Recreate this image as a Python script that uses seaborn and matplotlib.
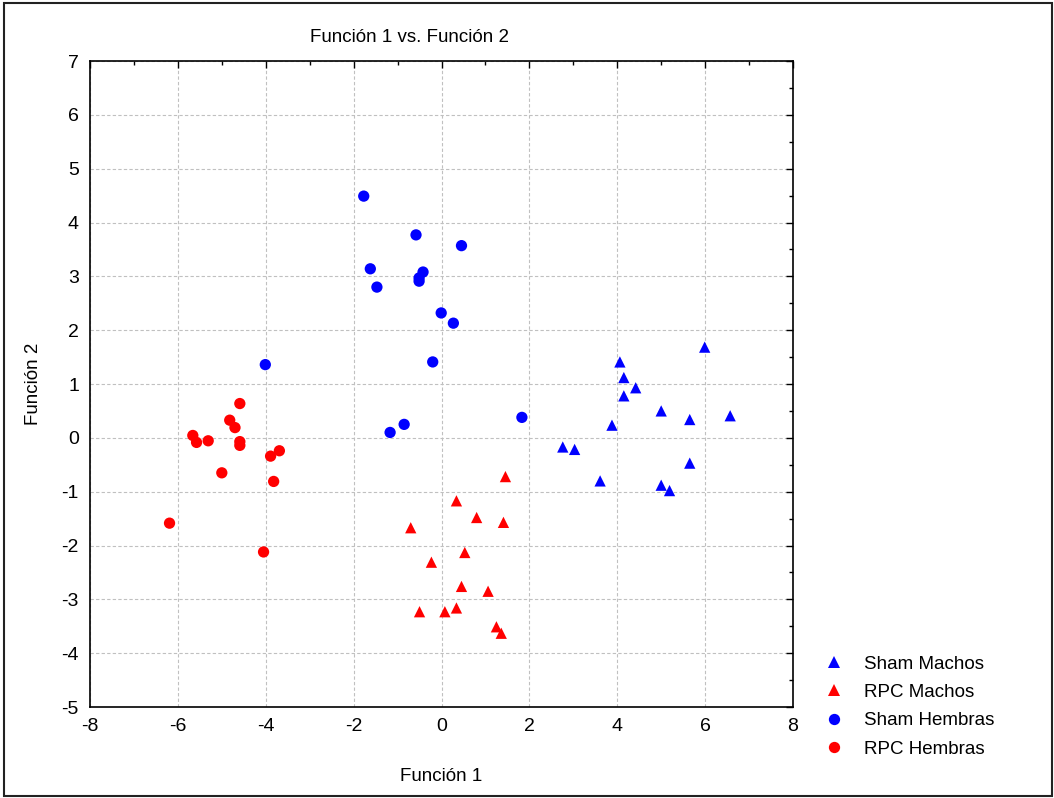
import matplotlib
matplotlib.use("Agg")
import matplotlib.pyplot as plt
import seaborn as sns
import pandas as pd
from matplotlib.ticker import MultipleLocator
from matplotlib.patches import Rectangle

sns.set_style("white")
plt.rcParams['font.family'] = ['Liberation Sans', 'DejaVu Sans']
plt.rcParams['axes.unicode_minus'] = False
plt.rcParams['text.color'] = 'black'
plt.rcParams['axes.labelcolor'] = 'black'
plt.rcParams['xtick.color'] = 'black'
plt.rcParams['ytick.color'] = 'black'

groups = ["Sham Machos", "RPC Machos", "Sham Hembras", "RPC Hembras"]

sham_machos_x = [5.99, 4.06, 4.15, 4.42, 4.15, 5.00, 5.65, 6.57, 3.88, 2.76, 3.03, 5.65, 3.61, 5.00, 5.19]
sham_machos_y = [1.685, 1.41, 1.12, 0.93, 0.78, 0.50, 0.34, 0.41, 0.235, -0.17, -0.215, -0.47, -0.80, -0.88, -0.98]

rpc_machos_x = [1.455, 0.34, 0.80, 1.41, -0.70, 0.53, -0.23, 0.455, 1.06, 0.34, -0.50, 0.077, 1.25, 1.36]
rpc_machos_y = [-0.72, -1.17, -1.48, -1.57, -1.67, -2.13, -2.31, -2.76, -2.85, -3.16, -3.23, -3.23, -3.51, -3.63]

sham_hembras_x = [-1.77, -0.58, 0.455, -1.62, -0.42, -0.51, -0.51, -1.47, -0.007, 0.27, -0.20, 1.83, -0.85, -1.17, -4.01]
sham_hembras_y = [4.49, 3.77, 3.57, 3.14, 3.08, 2.97, 2.91, 2.80, 2.32, 2.13, 1.41, 0.38, 0.25, 0.10, 1.36]

rpc_hembras_x = [-6.19, -4.59, -4.82, -4.70, -5.66, -5.575, -5.31, -4.59, -4.59, -3.69, -3.89, -5.00, -3.82, -4.05]
rpc_hembras_y = [-1.585, 0.637, 0.328, 0.19, 0.044, -0.085, -0.055, -0.07, -0.14, -0.24, -0.34, -0.65, -0.81, -2.12]

xs = [sham_machos_x, rpc_machos_x, sham_hembras_x, rpc_hembras_x]
ys = [sham_machos_y, rpc_machos_y, sham_hembras_y, rpc_hembras_y]
rows = []
for g, gx, gy in zip(groups, xs, ys):
    for a, b in zip(gx, gy):
        rows.append({"Función 1": a, "Función 2": b, "Grupo": g})
df = pd.DataFrame(rows)

palette = {"Sham Machos": "#0000ff", "RPC Machos": "#ff0000",
           "Sham Hembras": "#0000ff", "RPC Hembras": "#ff0000"}
markers = {"Sham Machos": "^", "RPC Machos": "^",
           "Sham Hembras": "o", "RPC Hembras": "o"}

fig = plt.figure(figsize=(10.54, 7.98), dpi=100)
ax = fig.add_axes([90/1054, 1 - 707/798, (793-90)/1054, (707-61)/798])

sns.scatterplot(data=df, x="Función 1", y="Función 2", hue="Grupo", style="Grupo",
                hue_order=groups, style_order=groups, palette=palette, markers=markers,
                s=66, linewidth=0, ax=ax, legend=True, zorder=3)

ax.set_xlim(-8, 8)
ax.set_ylim(-5, 7)
ax.xaxis.set_major_locator(MultipleLocator(2))
ax.xaxis.set_minor_locator(MultipleLocator(1))
ax.yaxis.set_major_locator(MultipleLocator(1))
ax.yaxis.set_minor_locator(MultipleLocator(0.5))
ax.tick_params(which='both', direction='in', top=True, right=True, color='black')
ax.tick_params(which='major', length=5, width=1, labelsize=14, pad=8)
ax.tick_params(which='minor', length=3, width=1)
ax.grid(True, which='major', linestyle=(0, (3, 2)), color='#c0c0c0', linewidth=0.8)
for sp in ax.spines.values():
    sp.set_color('black')
    sp.set_linewidth(1.2)

ax.set_xlabel("Función 1", fontsize=13.5, labelpad=24)
ax.set_ylabel("Función 2", fontsize=13.5, labelpad=14)
ax.set_title("Función 1 vs. Función 2", fontsize=13.5, pad=14, x=0.455)

handles, labels = ax.get_legend_handles_labels()
ax.legend(handles=handles, labels=labels, loc='upper left',
          bbox_to_anchor=(808/1054, 1 - 648/798), bbox_transform=fig.transFigure,
          frameon=False, fontsize=13.5, handletextpad=0.6, labelspacing=0.6,
          markerscale=1.0, borderaxespad=0)

fig.patches.append(Rectangle((0.004, 0.002), 0.994, 0.994, transform=fig.transFigure,
                             fill=False, edgecolor='#222222', linewidth=1.5))

fig.savefig("out.png", dpi=100)
